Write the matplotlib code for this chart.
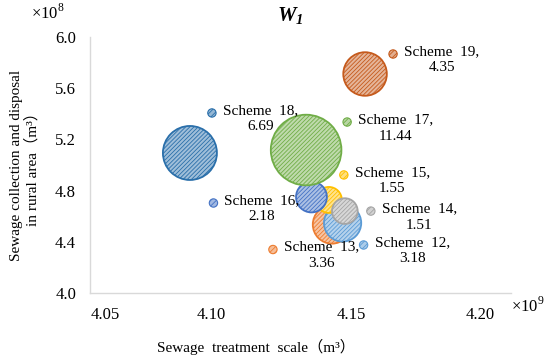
import matplotlib.pyplot as plt
import matplotlib.colors as mcolors
import matplotlib.transforms as mtrans

plt.rcParams['font.family'] = ['Liberation Serif', 'Noto Sans CJK SC']
plt.rcParams['mathtext.fontset'] = 'custom'
plt.rcParams['mathtext.rm'] = 'Liberation Serif'
plt.rcParams['mathtext.bf'] = 'Liberation Serif:bold:italic'
plt.rcParams['hatch.linewidth'] = 0.6

# --- data: x in 1e9 m3, y in 1e8 m3, bubble size = score ---
schemes = ["Scheme 12", "Scheme 13", "Scheme 14", "Scheme 15",
           "Scheme 16", "Scheme 17", "Scheme 18", "Scheme 19"]
treat_scale = [4.1400, 4.1362, 4.1408, 4.1351, 4.1289, 4.1270, 4.0856, 4.1480]
collect_vol = [4.547, 4.535, 4.640, 4.727, 4.750, 5.117, 5.094, 5.711]
bubble_val = [3.18, 3.36, 1.51, 1.55, 2.18, 11.44, 6.69, 4.35]

x_ticks = [4.05, 4.10, 4.15, 4.20]
y_ticks = [4.0, 4.4, 4.8, 5.2, 5.6, 6.0]

colors = ['#5B9BD5', '#ED7D31', '#A5A5A5', '#FFC000',
          '#4472C4', '#70AD47', '#2A6FAA', '#C55A1C']
# draw order (back -> front)
order = [1, 0, 3, 2, 4, 5, 6, 7]
# where the small key dot + label sits, pixels from bubble centre
label_off = [(21, -22), (-59, -25), (26, 0), (15, 25),
             (-98, -6), (41, 28), (22, 40), (28, 20)]
# the x tick labels in the original are nudged sideways (pixels)
xlab_shift = [15, -19, -19, -31]

fig = plt.figure(figsize=(5.5, 3.62), dpi=100)
ax = fig.add_axes([90/550, 69/362, 421/550, 256/362])


def lighter(c, amt=0.5):
    r, g, b = mcolors.to_rgb(c)
    return (r + (1 - r) * amt, g + (1 - g) * amt, b + (1 - b) * amt)


k = 226  # points^2 per unit of score
for z, i in enumerate(order):
    ax.scatter(treat_scale[i], collect_vol[i], s=k * bubble_val[i],
               facecolor=lighter(colors[i], 0.55), edgecolor=colors[i],
               hatch='////////', linewidth=1.3, zorder=2 + z)

# data labels with legend key
for i in range(len(schemes)):
    dx, dy = label_off[i]
    key = ax.scatter([treat_scale[i]], [collect_vol[i]], s=36,
                     facecolor=lighter(colors[i], 0.5), edgecolor=colors[i],
                     hatch='//////', linewidth=0.8, zorder=20)
    key.set_offset_transform(ax.transData + mtrans.Affine2D().translate(dx, dy))
    name = schemes[i].replace(" ", "  ")
    ax.annotate(f"{name},\n{bubble_val[i]:.2f}",
                xy=(treat_scale[i], collect_vol[i]),
                xytext=(dx + 11, dy + 9), textcoords='offset pixels',
                ha='left', va='top', multialignment='center',
                fontsize=11, linespacing=1.35, zorder=21)

ax.set_xlim(4.05, 4.20)
ax.set_ylim(4.0, 6.0)
ax.set_xticks(x_ticks)
ax.set_xticklabels([f"{v:.2f}" for v in x_ticks])
ax.set_yticks(y_ticks)
ax.set_yticklabels([f"{v:.1f}" for v in y_ticks])
ax.tick_params(length=0, labelsize=12, pad=10)
for lab, sh in zip(ax.get_xticklabels(), xlab_shift):
    lab.set_transform(lab.get_transform() +
                      mtrans.ScaledTranslation(sh / 100, 0, fig.dpi_scale_trans))
for s in ['top', 'right']:
    ax.spines[s].set_visible(False)
for s in ['left', 'bottom']:
    ax.spines[s].set_color('#D9D9D9')
    ax.spines[s].set_linewidth(1.0)

fig.text(290/550, 1 - 16/362, r'$\mathbf{W_1}$', fontsize=15,
         ha='center', va='center')
fig.text(48/550, 1 - 13/362, r'$\times10^{8}$', fontsize=12,
         ha='center', va='center')
fig.text(528/550, 1 - 306/362, r'$\times10^{9}$', fontsize=12,
         ha='center', va='center')
fig.text(256/550, 1 - 347/362, "Sewage  treatment  scale（m³）", fontsize=11,
         ha='center', va='center')
fig.text(25/550, 1 - 165/362,
         "Sewage collection and disposal\nin rural area（m³）",
         fontsize=11, rotation=90, ha='center', va='center',
         multialignment='center', linespacing=1.2)

fig.savefig("out.png", dpi=100)
